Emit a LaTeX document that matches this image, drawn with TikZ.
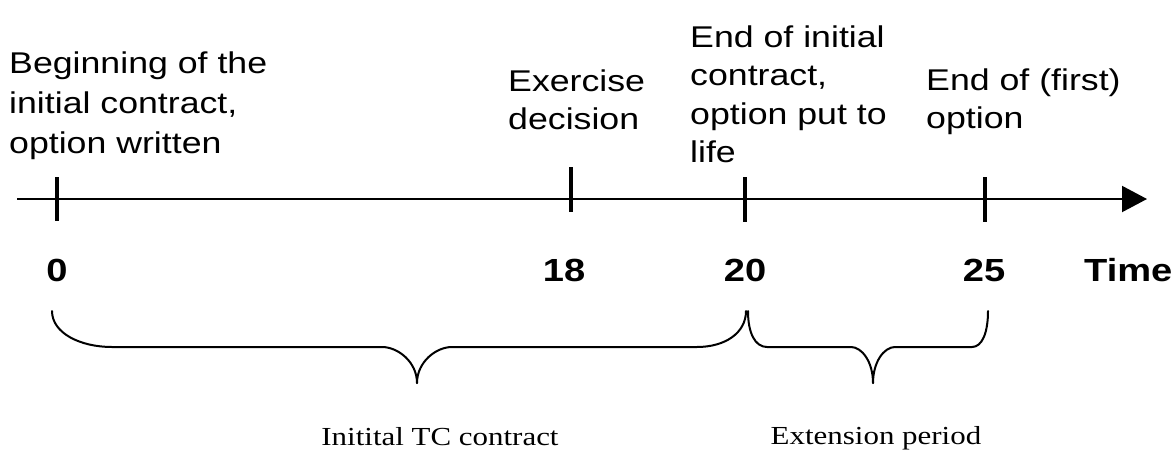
\documentclass[tikz,border=0pt]{standalone}
\usepackage{fontspec}
\usetikzlibrary{arrows.meta}
\newfontfamily\sansf{Liberation Sans}[FakeStretch=1.19]
\newfontfamily\seriff{Liberation Serif}[FakeStretch=1.19]
\newcommand{\stack}[1]{\vtop{\halign{##\hfil\cr#1\cr}}}
\tikzset{
  axisline/.style={line width=2pt, -{Triangle[length=25pt,width=26pt]}},
  tickline/.style={line width=3.5pt},
  braceline/.style={line width=2pt, line cap=round},
  lbl/.style={inner sep=0pt, anchor=base west, font=\sansf\fontsize{30}{38.5}\selectfont},
  num/.style={inner sep=0pt, anchor=base, font=\sansf\bfseries\fontsize{32}{36}\selectfont},
  per/.style={inner sep=0pt, anchor=base, font=\seriff\fontsize{26}{30}\selectfont}
}
\begin{document}
\begin{tikzpicture}[x=1pt,y=-1pt]
\useasboundingbox (0,0) rectangle (1173,453);
% axis
\coordinate (axs) at (17,199);
\coordinate (axe) at (1147,199);
\draw[axisline] (axs) -- (axe);
% ticks
\coordinate (t0a) at (57,177);  \coordinate (t0b) at (57,221);
\coordinate (t18a) at (571,167); \coordinate (t18b) at (571,212);
\coordinate (t20a) at (745,177); \coordinate (t20b) at (745,222);
\coordinate (t25a) at (985,177); \coordinate (t25b) at (985,222);
\draw[tickline] (t0a) -- (t0b);
\draw[tickline] (t18a) -- (t18b);
\draw[tickline] (t20a) -- (t20b);
\draw[tickline] (t25a) -- (t25b);
% event labels
\node[lbl, font=\sansf\fontsize{30}{40}\selectfont] (beg) at (9,73) {\stack{Beginning of the\cr initial contract,\cr option written}};
\node[lbl] (exe) at (508,91) {\stack{Exercise\cr decision}};
\node[lbl] (endi) at (690,47) {\stack{End of initial\cr contract,\cr option put to\cr life}};
\node[lbl] (endf) at (926,90) {\stack{End of (first)\cr option}};
% numbers
\node[num] (n0) at (57,281) {0};
\node[num] (n18) at (564,281) {18};
\node[num] (n20) at (745,281) {20};
\node[num] (n25) at (984,281) {25};
\node[num, anchor=base west] (time) at (1084,281) {Time};
% brace 1
\draw[braceline] (52,311) .. controls (52,333) and (80,347) .. (112,347)
  -- (382,347) .. controls (398,347) and (417,362) .. (417,383);
\draw[braceline] (417,383) .. controls (417,362) and (436,347) .. (452,347)
  -- (697,347) .. controls (725,347) and (746,333) .. (746,311);
% brace 2
\draw[braceline] (748,311) .. controls (748,333) and (755,347) .. (767,347)
  -- (851,347) .. controls (862,347) and (873,362) .. (873,383);
\draw[braceline] (873,383) .. controls (873,362) and (884,347) .. (895,347)
  -- (972,347) .. controls (982,347) and (988,333) .. (988,311);
% period labels
\node[per] (p1) at (440,445) {Initital TC contract};
\node[per] (p2) at (876,444) {Extension period};
\end{tikzpicture}
\end{document}
